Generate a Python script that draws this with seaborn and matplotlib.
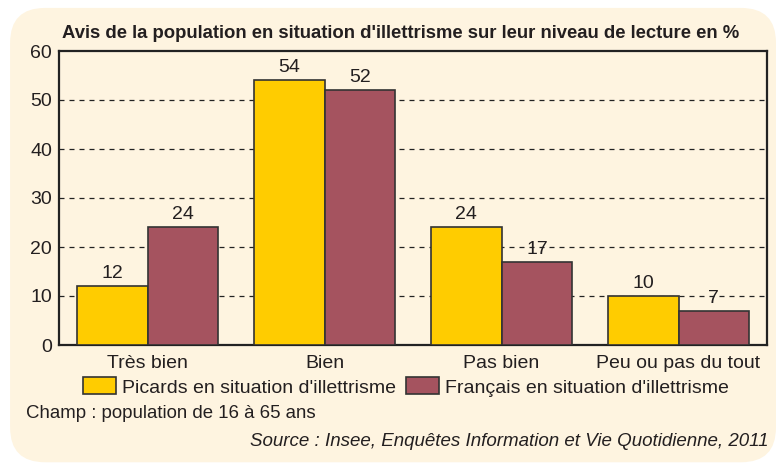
import matplotlib
matplotlib.use("Agg")
import matplotlib.pyplot as plt
from matplotlib.patches import FancyBboxPatch, Patch
from matplotlib import font_manager
import pandas as pd
import seaborn as sns

categories = ["Très bien", "Bien", "Pas bien", "Peu ou pas du tout"]
series_names = ["Picards en situation d'illettrisme", "Français en situation d'illettrisme"]
picards = [12, 54, 24, 10]
francais = [24, 52, 17, 7]
y_ticks = [0, 10, 20, 30, 40, 50, 60]

title = "Avis de la population en situation d'illettrisme sur leur niveau de lecture en %"
champ = "Champ : population de 16 à 65 ans"
source = "Source : Insee, Enquêtes Information et Vie Quotidienne, 2011"

BG = "#FEF4E0"
YELLOW = "#FFCC00"
MAROON = "#A5535F"
EDGE = "#333333"
TEXT = "#231F20"

sns.set_theme(style="white")
names = {f.name for f in font_manager.fontManager.ttflist}
family = [n for n in ["Liberation Sans Narrow", "Liberation Sans"] if n in names] + ["DejaVu Sans"]
plt.rcParams["font.family"] = family

df = pd.DataFrame({
    "cat": categories * 2,
    "serie": [series_names[0]] * 4 + [series_names[1]] * 4,
    "val": picards + francais,
})

fig = plt.figure(figsize=(7.76, 4.66), dpi=100)
fig.patch.set_facecolor("white")
fig.patches.append(FancyBboxPatch((0.013, 0.008), 0.987, 0.975,
                                  boxstyle="round,pad=0,rounding_size=0.045",
                                  transform=fig.transFigure, facecolor=BG,
                                  edgecolor="none", zorder=-10,
                                  mutation_aspect=776 / 466))

ax = fig.add_axes([59 / 776, 1 - 345 / 466, 708 / 776, 294 / 466])
ax.set_facecolor(BG)
sns.barplot(data=df, x="cat", y="val", hue="serie", hue_order=series_names,
            palette=[YELLOW, MAROON], saturation=1, width=0.8, edgecolor=EDGE,
            linewidth=1.2, ax=ax, legend=False, zorder=3)
ax.set_xlim(-0.5, 3.5)
ax.set_ylim(0, 60)
ax.set_yticks(y_ticks)
ax.set_xlabel("")
ax.set_ylabel("")
for y in y_ticks[1:-1]:
    ax.axhline(y, color="#222222", linestyle=(0, (4, 4)), linewidth=0.9, zorder=1)
for s in ax.spines.values():
    s.set_color("#222222")
    s.set_linewidth(1.6)
ax.tick_params(axis="both", length=0, labelsize=14, labelcolor=TEXT, pad=5)
ax.tick_params(axis="x", pad=7)

for cont in ax.containers:
    ax.bar_label(cont, fmt="%d", padding=3, fontsize=14, color=TEXT)

fig.text(62 / 776, 1 - 33 / 466, title, ha="left", va="center",
         fontsize=13.3, fontweight="bold", color=TEXT)

handles = [Patch(facecolor=YELLOW, edgecolor=EDGE, linewidth=1.2),
           Patch(facecolor=MAROON, edgecolor=EDGE, linewidth=1.2)]
fig.legend(handles, series_names, loc="center", bbox_to_anchor=(406 / 776, 1 - 387 / 466),
           ncol=2, frameon=False, fontsize=14, handlelength=1.7, handleheight=0.95,
           handletextpad=0.3, columnspacing=0.5, labelcolor=TEXT)

fig.text(26 / 776, 1 - 414 / 466, champ, ha="left", va="center", fontsize=13.4, color=TEXT)
fig.text(769 / 776, 1 - 441 / 466, source, ha="right", va="center", fontsize=13.5,
         style="italic", color=TEXT)

fig.savefig("out.png", dpi=100, facecolor=fig.get_facecolor())
